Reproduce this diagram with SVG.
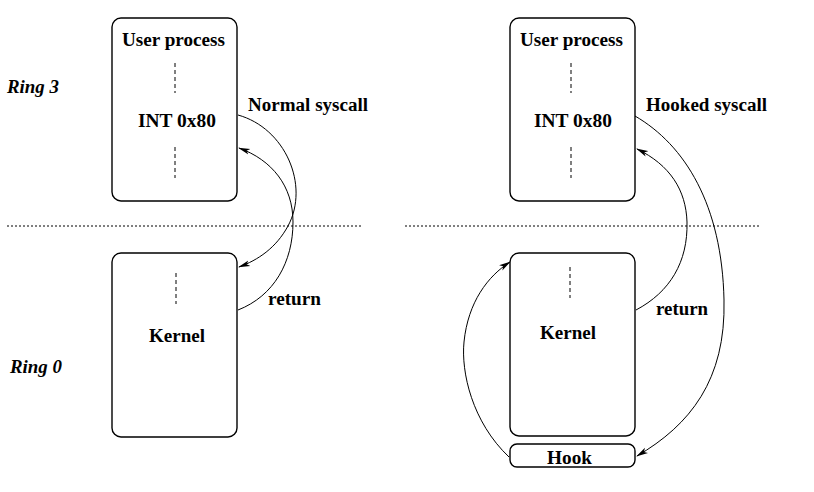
<svg xmlns="http://www.w3.org/2000/svg" width="814" height="492" viewBox="0 0 814 492">
<style>
.box{fill:#fff;stroke:#000;stroke-width:1.4}
.dash{stroke:#000;stroke-width:1;stroke-dasharray:4,3;fill:none}
.dot{stroke:#000;stroke-width:1;stroke-dasharray:2,2;fill:none}
.t{font-family:"Liberation Serif",serif;font-weight:bold;font-size:18px;fill:#000}
.ti{font-family:"Liberation Serif",serif;font-weight:bold;font-style:italic;font-size:18px;fill:#000}
.c{fill:none;stroke:#000;stroke-width:1}
</style>
<defs>
<marker id="ah" viewBox="0 0 12 8" refX="11" refY="4" markerWidth="12" markerHeight="8" markerUnits="userSpaceOnUse" orient="auto">
<path d="M0,1 L12,4 L0,7 L3,4 Z" fill="#000"/>
</marker>
</defs>
<rect width="814" height="492" fill="#fff"/>
<g id="separators">
<line class="dot" x1="7" y1="226" x2="362" y2="226"/>
<line class="dot" x1="405" y1="226" x2="760" y2="226"/>
</g>
<g id="ring3"><text class="ti" x="7" y="93" textLength="52" lengthAdjust="spacingAndGlyphs">Ring 3</text></g>
<g id="ring0"><text class="ti" x="10" y="373" textLength="52" lengthAdjust="spacingAndGlyphs">Ring 0</text></g>
<g id="user-left">
<rect class="box" x="112" y="18" width="125" height="183" rx="9"/>
<text class="t" x="122" y="46" textLength="103" lengthAdjust="spacingAndGlyphs">User process</text>
<line class="dash" x1="175" y1="63" x2="175" y2="93"/>
<text class="t" x="138" y="127" textLength="78" lengthAdjust="spacingAndGlyphs">INT 0x80</text>
<line class="dash" x1="175" y1="147" x2="175" y2="178"/>
</g>
<g id="kernel-left">
<rect class="box" x="112" y="253" width="125" height="184" rx="9"/>
<line class="dash" x1="176" y1="273" x2="176" y2="304"/>
<text class="t" x="149" y="342" textLength="56" lengthAdjust="spacingAndGlyphs">Kernel</text>
</g>
<g id="user-right">
<rect class="box" x="510" y="18" width="125" height="183" rx="9"/>
<text class="t" x="520" y="46" textLength="103" lengthAdjust="spacingAndGlyphs">User process</text>
<line class="dash" x1="571" y1="63" x2="571" y2="93"/>
<text class="t" x="534" y="127" textLength="78" lengthAdjust="spacingAndGlyphs">INT 0x80</text>
<line class="dash" x1="571" y1="147" x2="571" y2="178"/>
</g>
<g id="kernel-right">
<rect class="box" x="510" y="253" width="125" height="183" rx="9"/>
<line class="dash" x1="570" y1="267" x2="570" y2="298"/>
<text class="t" x="540" y="339" textLength="56" lengthAdjust="spacingAndGlyphs">Kernel</text>
</g>
<g id="hook">
<rect class="box" x="510" y="444" width="125" height="23" rx="7"/>
<text class="t" x="547" y="464" textLength="45" lengthAdjust="spacingAndGlyphs">Hook</text>
</g>
<g id="connectors">
<path class="c" d="M238,115 C285,128 310,185 288,226 C276,248 258,260 239,267" marker-end="url(#ah)"/>
<path class="c" d="M238,310 C274,296 293,262 293,222 C293,186 272,160 239,148" marker-end="url(#ah)"/>
<path class="c" d="M635,116 C685,145 722,205 724,300 C726,380 690,425 637,456" marker-end="url(#ah)"/>
<path class="c" d="M636,310 C670,292 688,262 687,222 C686,190 670,165 637,149" marker-end="url(#ah)"/>
<path class="c" d="M509,457 C472,422 461,372 464,342 C468,302 488,276 510,262" marker-end="url(#ah)"/>
</g>
<g id="labels">
<text class="t" x="248" y="111" textLength="120" lengthAdjust="spacingAndGlyphs">Normal syscall</text>
<text class="t" x="268" y="305" textLength="53" lengthAdjust="spacingAndGlyphs">return</text>
<text class="t" x="646" y="111" textLength="121" lengthAdjust="spacingAndGlyphs">Hooked syscall</text>
<text class="t" x="656" y="315" textLength="52" lengthAdjust="spacingAndGlyphs">return</text>
</g>
</svg>
